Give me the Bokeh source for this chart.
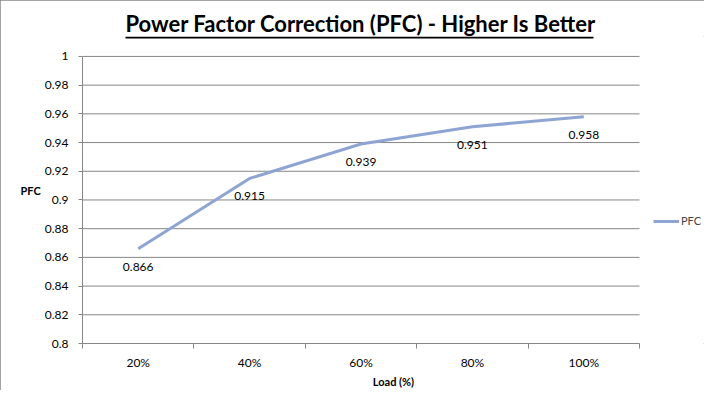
from bokeh.plotting import figure
from bokeh.models import (FixedTicker, Legend, LegendItem, BoxAnnotation,
                          ColumnDataSource, Range1d)
from bokeh.embed import file_html
from bokeh.resources import INLINE
from bokeh.core.properties import value

# ---- data ----
loads = ["20%", "40%", "60%", "80%", "100%"]
pfc = [0.866, 0.915, 0.939, 0.951, 0.958]
y_ticks = [0.8, 0.82, 0.84, 0.86, 0.88, 0.9, 0.92, 0.94, 0.96, 0.98, 1.0]
y_tick_labels = ["0.8", "0.82", "0.84", "0.86", "0.88", "0.9", "0.92",
                 "0.94", "0.96", "0.98", "1"]
title_text = "Power Factor Correction (PFC) - Higher Is Better"
series_name = "PFC"
x_title = "Load (%)"
y_title = "PFC"

FONT = "Lato"
GREY = "#868686"
LINE = "#8EA5D3"

# ---- layout (pixels) ----
W, H = 704, 390
LEFT, TOP, BOTTOM = 82, 36, 46
PLOT_W, PLOT_H = 557, 288      # the chart's plotting area
TITLE_X, TITLE_W = 43, 468
frame_w, frame_h = W - LEFT, H - TOP - BOTTOM

xs = list(range(1, len(loads) + 1))
x_lo, x_hi = xs[0] - 0.5, xs[-1] + 0.5
y_lo, y_hi = y_ticks[0], y_ticks[-1]
x_end = x_lo + (x_hi - x_lo) * frame_w / PLOT_W
y_end = y_lo + (y_hi - y_lo) * frame_h / PLOT_H

src = ColumnDataSource(dict(x=xs, y=pfc, label=[f"{v:.3f}" for v in pfc]))

p = figure(width=W, height=H, output_backend="svg", toolbar_location=None,
           x_range=Range1d(x_lo, x_end), y_range=Range1d(y_lo, y_end),
           min_border_left=LEFT, min_border_right=0,
           min_border_top=TOP, min_border_bottom=BOTTOM)
p.outline_line_color = None
p.background_fill_color = "white"
p.border_fill_color = "white"
p.styles = {"outline": f"1px solid {GREY}", "outline-offset": "-1px"}
p.xgrid.visible = False
p.ygrid.visible = False

# title (underlined)
p.title.text = title_text
p.title.align = "left"
p.title.offset = TITLE_X
p.title.standoff = 0
p.title.text_font = FONT
p.title.text_font_size = "22px"
p.title.text_font_style = "bold"
p.title.text_color = "black"
p.add_layout(BoxAnnotation(left=TITLE_X, right=TITLE_X + TITLE_W,
                           left_units="screen", right_units="screen",
                           bottom=y_end - 2 * (y_hi - y_lo) / PLOT_H,
                           fill_color="black", fill_alpha=1, line_alpha=0))

# horizontal grid lines across the plotting area only
p.segment(x0=[x_lo] * len(y_ticks), x1=[x_hi] * len(y_ticks),
          y0=y_ticks, y1=y_ticks, line_color=GREY, line_width=1)

# x axis
xt = FixedTicker(ticks=xs, minor_ticks=[x - 0.5 for x in xs] + [x_hi])
p.xaxis.ticker = xt
p.xaxis.bounds = (x_lo, x_hi)
p.xaxis.major_label_overrides = {x: lab for x, lab in zip(xs, loads)}
p.xaxis.major_tick_in = 0
p.xaxis.major_tick_out = 0
p.xaxis.minor_tick_in = 0
p.xaxis.minor_tick_out = 5
p.xaxis.minor_tick_line_color = GREY
p.xaxis.axis_line_color = GREY
p.xaxis.major_label_text_font = FONT
p.xaxis.major_label_text_font_size = "12px"
p.xaxis.major_label_text_color = "black"
p.xaxis.major_label_standoff = 6
p.xaxis.axis_label = x_title
p.xaxis.axis_label_text_font = FONT
p.xaxis.axis_label_text_font_size = "11px"
p.xaxis.axis_label_text_font_style = "bold"
p.xaxis.axis_label_text_color = "black"
p.xaxis.axis_label_standoff = 2

# y axis
yt = FixedTicker(ticks=y_ticks, minor_ticks=[])
p.yaxis.ticker = yt
p.yaxis.bounds = (y_lo, y_hi)
p.yaxis.major_label_overrides = {t: lab for t, lab in zip(y_ticks, y_tick_labels)}
p.yaxis.major_tick_in = 0
p.yaxis.major_tick_out = 4
p.yaxis.major_tick_line_color = GREY
p.yaxis.axis_line_color = GREY
p.yaxis.minor_tick_line_color = None
p.yaxis.major_label_text_font = FONT
p.yaxis.major_label_text_font_size = "12px"
p.yaxis.major_label_text_color = "black"
p.yaxis.major_label_standoff = 10
p.yaxis.axis_label = y_title
p.yaxis.axis_label_orientation = "horizontal"
p.yaxis.axis_label_text_font = FONT
p.yaxis.axis_label_text_font_size = "11px"
p.yaxis.axis_label_text_font_style = "bold"
p.yaxis.axis_label_text_color = "black"
p.yaxis.axis_label_standoff = 1

# series
r = p.line("x", "y", source=src, line_color=LINE, line_width=3)
p.text("x", "y", text="label", source=src, text_align="center",
       text_baseline="middle", y_offset=18, text_font=value(FONT),
       text_font_size="12px", text_color="black")

# legend, to the right of the plotting area
legend = Legend(items=[LegendItem(label=series_name, renderers=[r])],
                location=(571, 116), border_line_color=None,
                background_fill_alpha=0, glyph_width=26, glyph_height=12,
                label_standoff=2, padding=4, margin=0,
                label_text_font=FONT, label_text_font_size="11px")
p.add_layout(legend, "center")

open("out.html", "w").write(file_html(p, INLINE))
